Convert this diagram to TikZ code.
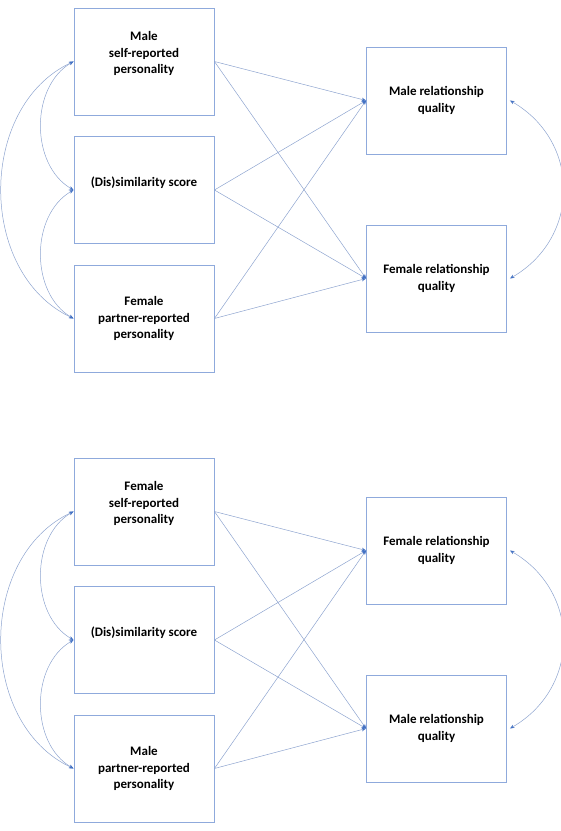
\documentclass[tikz,border=0pt]{standalone}
\usepackage{fontspec}
\setmainfont{Carlito}
\usetikzlibrary{arrows.meta}
\definecolor{boxblue}{HTML}{8FAADC}
\definecolor{lineblue}{HTML}{8EA4CF}
\definecolor{tipblue}{HTML}{4472C4}

\begin{document}
\begin{tikzpicture}[x=1pt, y=1pt,
box/.style = {shape=rectangle, draw=boxblue, line width=0.9pt,
	minimum width=140pt, minimum height=107pt,
	align=center, font=\bfseries\fontsize{13}{16.5}\selectfont},
txt/.style = {align=center, font=\bfseries\fontsize{13}{16.5}\selectfont},
link/.style = {draw=lineblue, line width=0.5pt,
	-{Stealth[length=4.5pt,width=3.5pt,color=tipblue]}},
cov/.style = {draw=lineblue, line width=0.5pt,
	{Stealth[length=4.5pt,width=3.5pt,color=tipblue]}-{Stealth[length=4.5pt,width=3.5pt,color=tipblue]}}]
\useasboundingbox (0,0) rectangle (561,831);

% male self / female partner
\node[box] (mself) at (144,769.5) {};
\node[box] (dis) at (144,641) {};
\node[box] (fpart) at (144,512.5) {Female\\partner-reported\\personality};
\node[box] (mrq) at (436.5,730.5) {Male relationship\\quality};
\node[box] (frq) at (436.5,552.5) {Female relationship\\quality};
\node[txt] (mself t) at ([yshift=8pt]mself.center) {Male\\self-reported\\personality};
\node[txt] (dis t) at ([yshift=7pt]dis.center) {(Dis)similarity score};

\foreach \s in {mself,dis,fpart}
	\foreach \t in {mrq,frq}
		\draw[link] (\s.east) -- (\t.west);
\draw[cov] (mself.west) to[out=210,in=150] (dis.west);
\draw[cov] (dis.west) to[out=210,in=150] (fpart.west);
\draw[cov] (mself.west) to[out=205,in=155,looseness=1.06] (fpart.west);
\draw[cov] ([xshift=3pt]mrq.east) to[out=-30,in=30,looseness=1.18] ([xshift=3pt]frq.east);

% female self / male partner
\node[box] (fself) at (144,319.5) {};
\node[box] (disb) at (144,191) {};
\node[box] (mpart) at (144,62.5) {Male\\partner-reported\\personality};
\node[box] (frqb) at (436.5,280.5) {Female relationship\\quality};
\node[box] (mrqb) at (436.5,102.5) {Male relationship\\quality};
\node[txt] (fself t) at ([yshift=8pt]fself.center) {Female\\self-reported\\personality};
\node[txt] (disb t) at ([yshift=7pt]disb.center) {(Dis)similarity score};

\foreach \s in {fself,disb,mpart}
	\foreach \t in {frqb,mrqb}
		\draw[link] (\s.east) -- (\t.west);
\draw[cov] (fself.west) to[out=210,in=150] (disb.west);
\draw[cov] (disb.west) to[out=210,in=150] (mpart.west);
\draw[cov] (fself.west) to[out=205,in=155,looseness=1.06] (mpart.west);
\draw[cov] ([xshift=3pt]frqb.east) to[out=-30,in=30,looseness=1.18] ([xshift=3pt]mrqb.east);
\end{tikzpicture}
\end{document}
